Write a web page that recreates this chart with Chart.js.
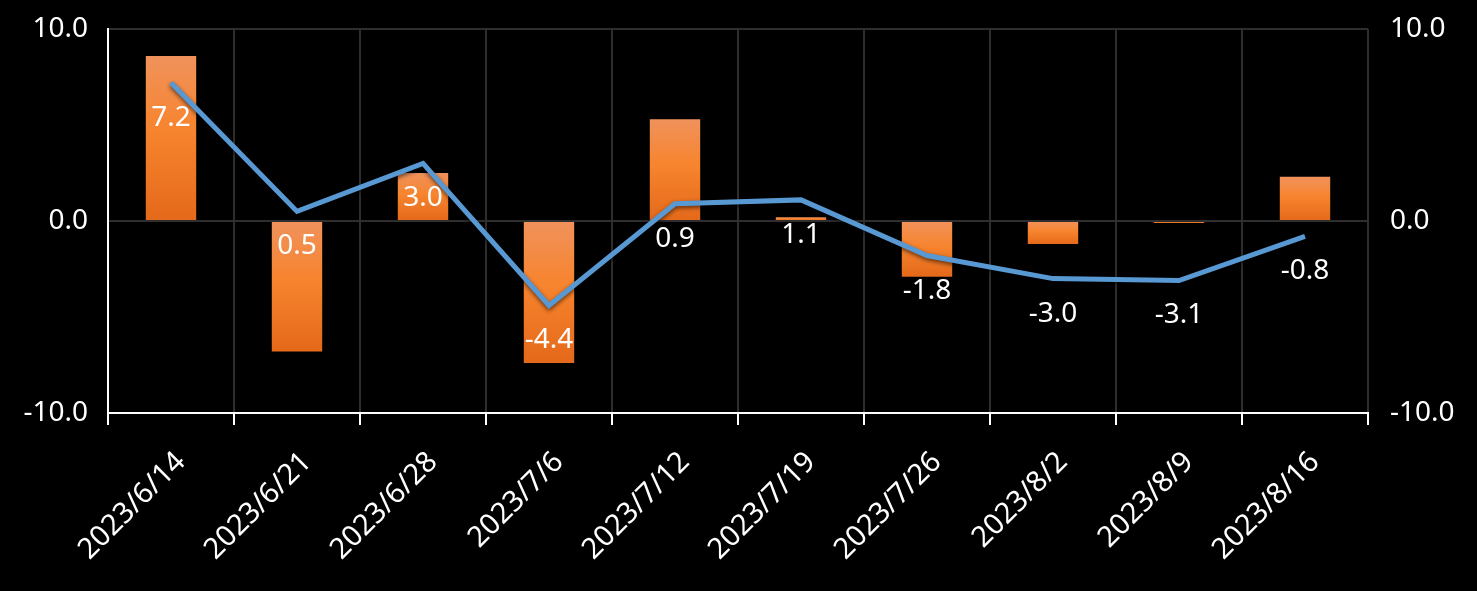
<!DOCTYPE html>
<html>
<head>
<meta charset="utf-8">
<script src="https://cdn.jsdelivr.net/npm/chart.js@4.4.1/dist/chart.umd.min.js"></script>
<style>
html,body{margin:0;padding:0;background:#000;}
#wrap{width:1477px;height:591px;position:relative;}
</style>
</head>
<body>
<div id="wrap"><canvas id="c" width="1477" height="591"></canvas></div>
<script>
const categories = ["2023/6/14","2023/6/21","2023/6/28","2023/7/6","2023/7/12","2023/7/19","2023/7/26","2023/8/2","2023/8/9","2023/8/16"];
const barValues = [8.6, -6.8, 2.5, -7.4, 5.3, 0.2, -2.9, -1.2, -0.1, 2.3];
const lineValues = [7.2, 0.5, 3.0, -4.4, 0.9, 1.1, -1.8, -3.0, -3.1, -0.8];
const yTicks = [-10, 0, 10];

const FONT = "'Noto Sans', 'DejaVu Sans', sans-serif";

function barGradient(context) {
  const chart = context.chart;
  const area = chart.chartArea;
  if (!area || context.type !== 'data') return '#F5822C';
  const ys = chart.scales.y;
  const v = context.raw;
  const top = ys.getPixelForValue(Math.max(v, 0));
  const bot = ys.getPixelForValue(Math.min(v, 0));
  if (!isFinite(top) || !isFinite(bot) || bot - top < 1) return '#F07A25';
  const g = chart.ctx.createLinearGradient(0, top, 0, bot);
  g.addColorStop(0, '#F0925C');
  g.addColorStop(0.45, '#F7842E');
  g.addColorStop(1, '#E4691A');
  return g;
}

const labelPlugin = {
  id: 'lineLabels',
  afterDatasetsDraw(chart) {
    const meta = chart.getDatasetMeta(0);
    const ctx = chart.ctx;
    ctx.save();
    ctx.font = "28px " + FONT;
    ctx.fillStyle = '#FFFFFF';
    ctx.textAlign = 'center';
    ctx.textBaseline = 'middle';
    meta.data.forEach((pt, i) => {
      ctx.fillText(lineValues[i].toFixed(1), pt.x, pt.y + 35);
    });
    ctx.restore();
  }
};

const shadowPlugin = {
  id: 'lineShadow',
  beforeDatasetDraw(chart, args) {
    if (args.index === 0) {
      chart.ctx.save();
      chart.ctx.shadowColor = 'rgba(0,0,0,0.6)';
      chart.ctx.shadowBlur = 4;
      chart.ctx.shadowOffsetY = 2;
    }
  },
  afterDatasetDraw(chart, args) {
    if (args.index === 0) chart.ctx.restore();
  }
};

function fixY(width) {
  return function (scale) {
    scale.width = width;
    scale.paddingTop = 0;
    scale.paddingBottom = 0;
  };
}

new Chart(document.getElementById('c'), {
  data: {
    labels: categories,
    datasets: [
      {
        type: 'line',
        data: lineValues,
        borderColor: '#5899D4',
        borderWidth: 5,
        pointRadius: 0,
        tension: 0,
        yAxisID: 'y',
        order: 0
      },
      {
        type: 'bar',
        data: barValues,
        backgroundColor: barGradient,
        borderWidth: 0,
        barPercentage: 0.4,
        categoryPercentage: 1.0,
        yAxisID: 'y',
        order: 1
      }
    ]
  },
  options: {
    responsive: false,
    animation: false,
    devicePixelRatio: 1,
    layout: { padding: { top: 29, bottom: 0, left: 0, right: 0 } },
    plugins: { legend: { display: false }, tooltip: { enabled: false } },
    scales: {
      x: {
        offset: true,
        grid: {
          offset: true,
          color: '#2E2E2E',
          lineWidth: 2,
          drawTicks: true,
          tickLength: 12,
          tickColor: '#FFFFFF',
          tickWidth: 2
        },
        border: { display: true, color: '#FFFFFF', width: 2 },
        ticks: {
          color: '#FFFFFF',
          font: { size: 29, family: FONT },
          maxRotation: 45,
          minRotation: 45,
          padding: 20,
          labelOffset: 10,
          autoSkip: false
        },
        afterFit(scale) { scale.height = 178; scale.paddingLeft = 0; scale.paddingRight = 0; }
      },
      y: {
        position: 'left',
        min: -10, max: 10,
        afterBuildTicks(scale) { scale.ticks = yTicks.map(v => ({ value: v })); },
        grid: { color: '#2E2E2E', lineWidth: 2, drawTicks: false },
        border: { display: true, color: '#FFFFFF', width: 2 },
        ticks: {
          color: '#FFFFFF',
          font: { size: 28, family: FONT },
          padding: 20,
          callback: v => Number(v).toFixed(1)
        },
        afterFit: fixY(108)
      },
      y2: {
        position: 'right',
        min: -10, max: 10,
        afterBuildTicks(scale) { scale.ticks = yTicks.map(v => ({ value: v })); },
        grid: { display: false, drawTicks: false },
        border: { display: false },
        ticks: {
          color: '#FFFFFF',
          font: { size: 28, family: FONT },
          padding: 22,
          callback: v => Number(v).toFixed(1)
        },
        afterFit: fixY(109)
      }
    }
  },
  plugins: [labelPlugin, shadowPlugin]
});
</script>
</body>
</html>
